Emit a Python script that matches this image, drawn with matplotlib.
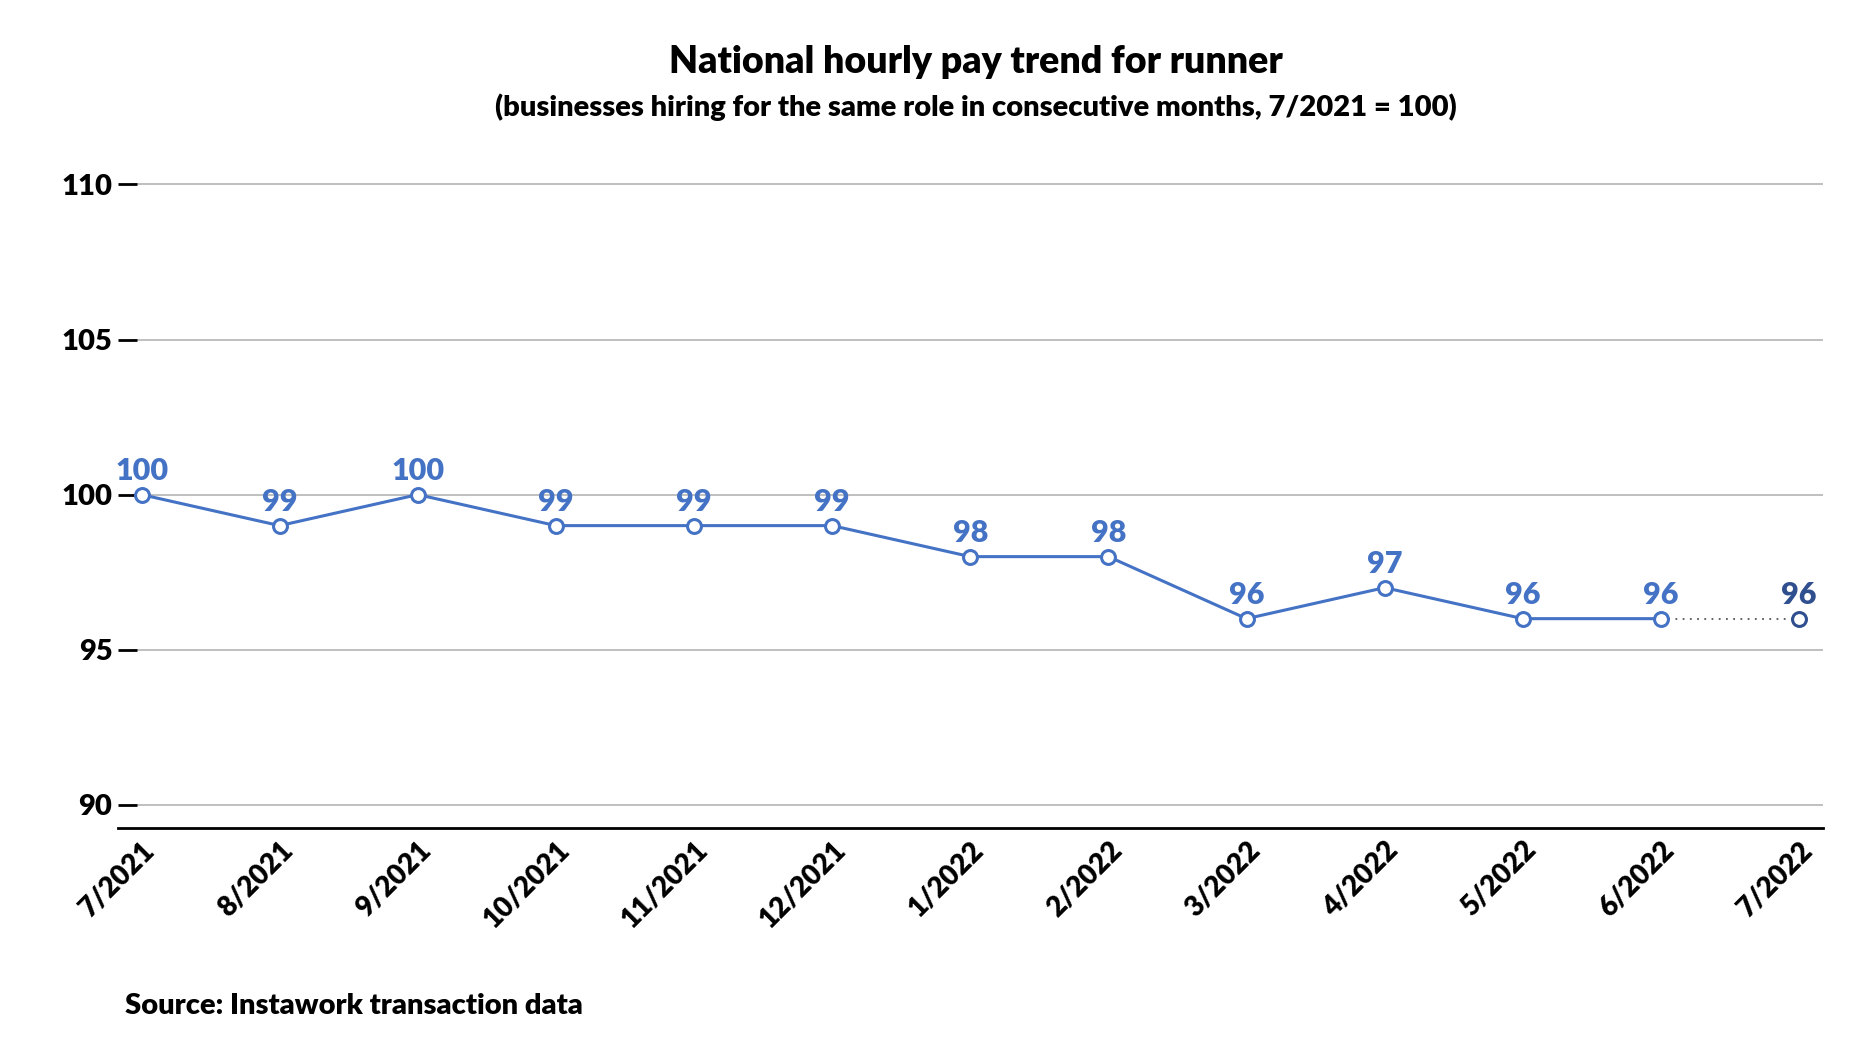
import matplotlib.pyplot as plt
import numpy as np

plt.rcParams["font.family"] = ["Lato", "DejaVu Sans"]

months = ["7/2021", "8/2021", "9/2021", "10/2021", "11/2021", "12/2021",
          "1/2022", "2/2022", "3/2022", "4/2022", "5/2022", "6/2022", "7/2022"]
pay_index = [100, 99, 100, 99, 99, 99, 98, 98, 96, 97, 96, 96, 96]
y_ticks = [90, 95, 100, 105, 110]

blue = "#4472C4"
navy = "#2F4F8F"
wt = "heavy"

fig = plt.figure(figsize=(18.62, 10.64), dpi=100)
ax = fig.add_axes([0.0634, 0.2218, 0.9154, 0.6194])

x = np.arange(len(months))
# solid part up to 6/2022, dotted to the latest month
ax.plot(x[:-1], pay_index[:-1], color=blue, lw=2.2, zorder=3)
ax.plot(x[-2:], pay_index[-2:], color="#555555", lw=1.3, ls=(0, (1, 3)), zorder=2)
ax.plot(x[:-1], pay_index[:-1], "o", ms=10, mfc="white", mec=blue, mew=2.2, zorder=4)
ax.plot(x[-1:], pay_index[-1:], "o", ms=10, mfc="white", mec=navy, mew=2.2, zorder=4)

for i, v in enumerate(pay_index):
    c = navy if i == len(pay_index) - 1 else blue
    ax.annotate(str(v), (x[i], v), xytext=(0, 7), textcoords="offset points",
                ha="center", va="bottom", fontsize=22, fontweight=wt, color=c)

for t in y_ticks:
    ax.axhline(t, xmin=0.0088, xmax=1, color="#BFBFBF", lw=1.4, zorder=1)

ax.set_xlim(-0.17, 12.17)
ax.set_ylim(89.25, 110.5)
ax.set_yticks(y_ticks)
ax.set_yticklabels([str(t) for t in y_ticks], fontsize=21, fontweight=wt)
ax.tick_params(axis="y", direction="in", length=14, width=2, pad=4, color="black")
ax.set_xticks(x)
ax.set_xticklabels(months, rotation=45, ha="right", va="top", rotation_mode="anchor",
                   fontsize=20, fontweight=wt)
ax.tick_params(axis="x", length=0, pad=6)

for s in ["top", "right", "left"]:
    ax.spines[s].set_visible(False)
ax.spines["bottom"].set_linewidth(2)

fig.text(0.524, 0.942, "National hourly pay trend for runner", ha="center", va="center",
         fontsize=27, fontweight=wt)
fig.text(0.524, 0.899, "(businesses hiring for the same role in consecutive months, 7/2021 = 100)",
         ha="center", va="center", fontsize=21, fontweight=wt)
fig.text(0.067, 0.0545, "Source: Instawork transaction data", ha="left", va="center",
         fontsize=21, fontweight=wt)

plt.savefig("out.png", dpi=100)
